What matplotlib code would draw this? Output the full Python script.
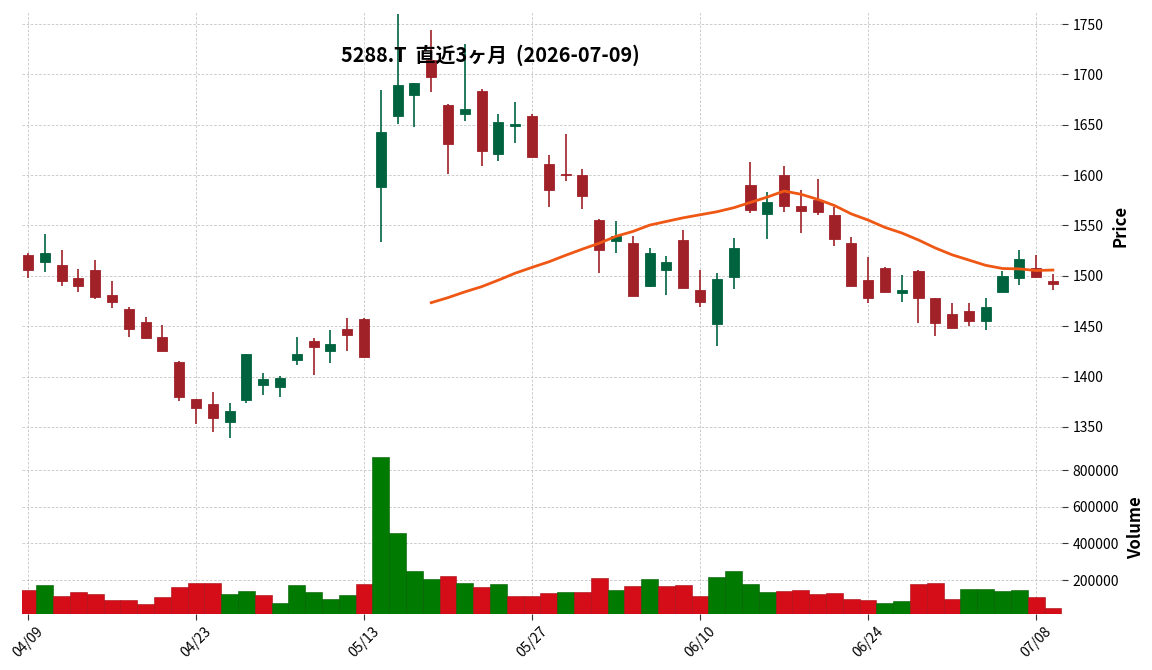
import numpy as np
import pandas as pd
import matplotlib
matplotlib.use('Agg')
import matplotlib.pyplot as plt

plt.rcParams['font.family'] = ['Noto Sans CJK JP', 'DejaVu Sans']

# trading days (JP holidays removed)
dates = pd.bdate_range('2026-04-09', '2026-07-09', freq='C',
                       holidays=['2026-04-29', '2026-05-04', '2026-05-05', '2026-05-06'])

opens = [1521, 1514, 1511, 1498, 1506, 1481, 1467, 1454, 1439, 1414,
         1378, 1373, 1355, 1377, 1392, 1390, 1416, 1435, 1425, 1447,
         1457, 1588, 1659, 1680, 1714, 1670, 1661, 1684, 1621, 1649,
         1659, 1611, 1601, 1600, 1555, 1535, 1533, 1490, 1506, 1536,
         1486, 1452, 1499, 1590, 1561, 1600, 1569, 1575, 1560, 1533,
         1496, 1508, 1483, 1505, 1478, 1462, 1465, 1455, 1484, 1498,
         1508, 1495]
highs = [1523, 1542, 1526, 1507, 1516, 1495, 1469, 1459, 1451, 1415,
         1378, 1385, 1374, 1422, 1404, 1401, 1439, 1438, 1446, 1458,
         1458, 1685, 1760, 1691, 1744, 1671, 1730, 1686, 1661, 1673,
         1661, 1620, 1641, 1606, 1556, 1554, 1540, 1528, 1520, 1546,
         1506, 1503, 1538, 1613, 1583, 1609, 1585, 1596, 1568, 1539,
         1519, 1509, 1501, 1506, 1478, 1473, 1473, 1478, 1505, 1526,
         1521, 1502]
lows = [1498, 1504, 1490, 1484, 1477, 1468, 1439, 1437, 1425, 1376,
        1353, 1345, 1339, 1374, 1382, 1380, 1411, 1402, 1413, 1425,
        1418, 1534, 1651, 1648, 1683, 1601, 1654, 1609, 1614, 1632,
        1617, 1568, 1594, 1566, 1503, 1523, 1480, 1489, 1481, 1488,
        1469, 1430, 1487, 1562, 1537, 1563, 1543, 1560, 1530, 1490,
        1473, 1484, 1474, 1453, 1440, 1448, 1450, 1446, 1484, 1491,
        1498, 1486]
closes = [1506, 1523, 1495, 1490, 1479, 1474, 1447, 1438, 1425, 1380,
          1369, 1359, 1366, 1422, 1398, 1399, 1422, 1429, 1432, 1441,
          1419, 1643, 1690, 1691, 1697, 1631, 1666, 1624, 1653, 1651,
          1618, 1585, 1600, 1579, 1526, 1540, 1480, 1523, 1514, 1488,
          1474, 1497, 1528, 1565, 1573, 1569, 1564, 1563, 1537, 1490,
          1478, 1484, 1486, 1478, 1453, 1448, 1455, 1469, 1500, 1517,
          1499, 1492]
volumes = [147000, 174500, 114500, 136000, 125500, 92700, 92700, 71000, 109000, 163600,
           185500, 185500, 125500, 141800, 120000, 76400, 174500, 136000, 98000, 120000,
           180000, 872700, 458000, 251000, 207000, 223600, 185500, 163600, 180000, 114500,
           114500, 131000, 136000, 136000, 212700, 147000, 169000, 207000, 169000, 174500,
           114500, 218000, 251000, 180000, 136000, 142000, 147000, 125500, 131000, 98000,
           92700, 76400, 87300, 180000, 185500, 98000, 152700, 152700, 142000, 147000,
           109000, 49100]

df = pd.DataFrame({'Open': opens, 'High': highs, 'Low': lows,
                   'Close': closes, 'Volume': volumes}, index=dates)
df['MA25'] = df['Close'].rolling(25).mean()

up_c, down_c = '#006340', '#a02128'
vup_c, vdown_c = '#007a00', '#d50d18'
x = np.arange(len(df))

fig = plt.figure(figsize=(11.52, 6.70), dpi=100)
ax = fig.add_axes([0.0188, 0.3433, 0.9032, 0.6403])
axv = fig.add_axes([0.0188, 0.0836, 0.9032, 0.2582], sharex=ax)

# candles
is_up = df['Close'] >= df['Open']
ccol = np.where(is_up, up_c, down_c)
ax.vlines(x, df['Low'], df['High'], colors=ccol, linewidth=1.2, zorder=2)
body_lo = np.minimum(df['Open'], df['Close'])
body_h = np.maximum((df['Close'] - df['Open']).abs(), 0.8)
ax.bar(x, body_h, bottom=body_lo, width=0.6, color=ccol, edgecolor=ccol,
       linewidth=0.6, zorder=3)

# moving average
ax.plot(x, df['MA25'], color='#ef5714', linewidth=2.0, zorder=4)

# volume, coloured vs previous close
prev = df['Close'].shift(1)
vup = (prev < df['Close']).to_numpy()
vup[0] = opens[0] < closes[0]
vcol = np.where(vup, vup_c, vdown_c)
vedge = np.where(vup, '#005c00', '#a80a12')
axv.bar(x, df['Volume'], width=1.0, color=vcol, edgecolor=vedge, linewidth=0.4)

for a in (ax, axv):
    for s in a.spines.values():
        s.set_visible(False)
    a.yaxis.tick_right()
    a.yaxis.set_label_position('right')
    a.grid(True, linestyle=(0, (3, 2)), color='#c4c4c4', linewidth=0.6)
    a.set_axisbelow(True)
    a.tick_params(axis='y', labelsize=10, length=4, color='#333333')
    a.tick_params(axis='x', length=4, color='#333333')

ax.set_xlim(-0.375, 61.55)
ax.set_ylim(1337, 1763)
ax.set_yticks(range(1350, 1751, 50))
ax.tick_params(axis='x', labelbottom=False, length=0)
ax.set_ylabel('Price', fontsize=12, fontweight='bold', labelpad=6)

axv.set_ylim(0.3 * min(volumes), 1.1 * max(volumes))
axv.set_yticks([200000, 400000, 600000, 800000])
axv.set_yticklabels(['200000', '400000', '600000', '800000'])
axv.set_ylabel('Volume', fontsize=12, fontweight='bold', labelpad=6)

tick_idx = list(range(0, len(df), 10))
axv.set_xticks(tick_idx)
axv.set_xticklabels([dates[i].strftime('%m/%d') for i in tick_idx],
                    rotation=45, fontsize=10)

fig.text(0.426, 0.918, '5288.T  直近3ヶ月  (2026-07-09)', ha='center', va='center',
         fontsize=14.3, fontweight='bold')

fig.savefig('out.png', dpi=100, facecolor='white')
